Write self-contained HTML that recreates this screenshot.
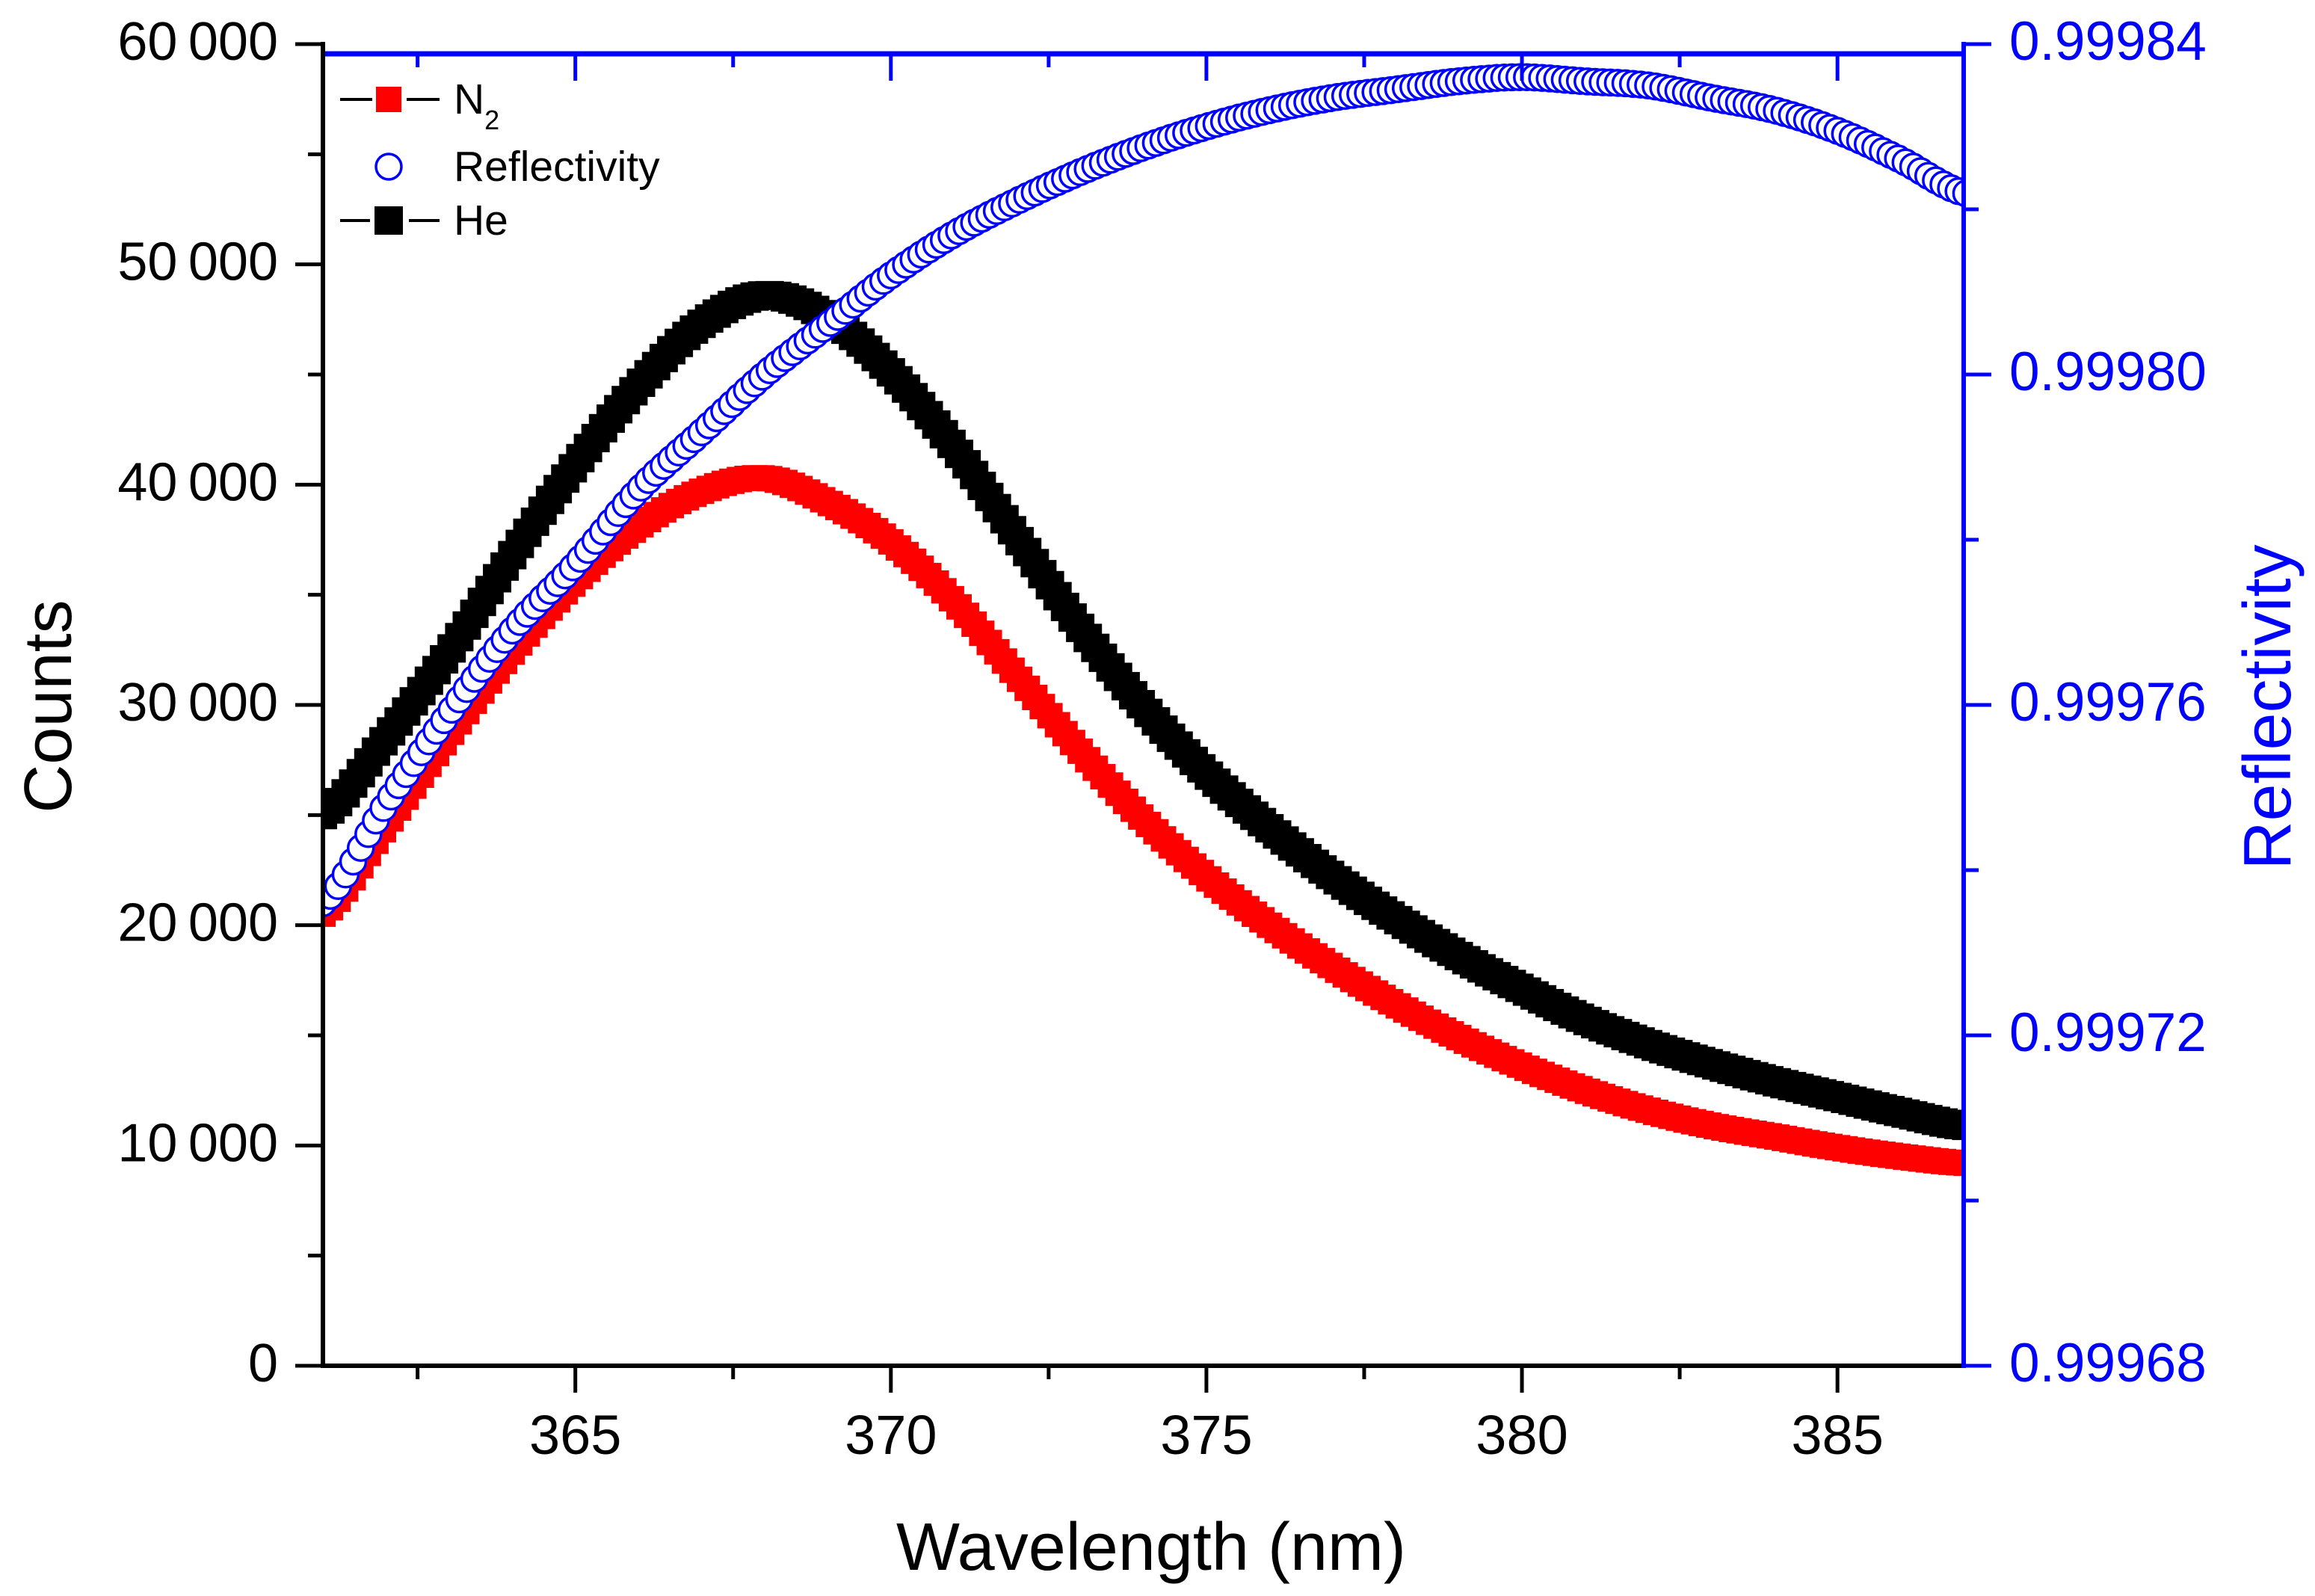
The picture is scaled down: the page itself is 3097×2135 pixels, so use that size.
<!DOCTYPE html>
<html><head><meta charset="utf-8"><style>
html,body{margin:0;padding:0;background:#fff;}
svg{display:block;font-family:"Liberation Sans",Arial,sans-serif;}
</style></head><body>
<svg id="chart" width="3097" height="2135" viewBox="0 0 3097 2135" xmlns="http://www.w3.org/2000/svg">
<defs><clipPath id="plotclip"><rect x="432" y="72" width="2195" height="1755"/></clipPath></defs>
<g id="series" clip-path="url(#plotclip)"></g>
<g id="axes"></g>
<g id="legend">
  <g>
    <line x1="455" y1="133" x2="498" y2="133" stroke="#000" stroke-width="4"/>
    <rect x="503" y="116" width="34" height="34" fill="#ff0000"/>
    <line x1="544" y1="133" x2="588" y2="133" stroke="#000" stroke-width="4"/>
    <text x="607" y="152" font-size="57" fill="#000">N<tspan font-size="36" dy="21">2</tspan></text>
  </g>
  <g>
    <circle cx="520" cy="223" r="17" fill="#fff" stroke="#0000ff" stroke-width="3.5"/>
    <text x="607" y="242" font-size="57" fill="#000">Reflectivity</text>
  </g>
  <g>
    <line x1="455" y1="295" x2="495" y2="295" stroke="#000" stroke-width="4"/>
    <rect x="501" y="276" width="38" height="38" fill="#000"/>
    <line x1="547" y1="295" x2="588" y2="295" stroke="#000" stroke-width="4"/>
    <text x="607" y="314" font-size="57" fill="#000">He</text>
  </g>
</g>
<text transform="translate(95,945) rotate(-90)" text-anchor="middle" font-size="90" fill="#000">Counts</text>
<text x="1540" y="2100" text-anchor="middle" font-size="90" fill="#000">Wavelength (nm)</text>
<text transform="translate(3064,946) rotate(-90)" text-anchor="middle" font-size="90" fill="#0000ff">Reflectivity</text>
</svg>
<script>
const wavelengths = [361,362,363,364,365,366,367,368,369,370,371,372,373,374,375,376,377,378,379,380,381,382,383,384,385,386,387];
const n2Counts = [20500,24500,28600,32400,35600,38100,39700,40300,39200,37400,34700,31300,27900,24800,22200,20000,18100,16400,14900,13600,12500,11600,10900,10400,9900,9500,9200];
const heCounts = [25000,28500,32400,36800,40900,44500,47300,48600,47600,45100,41700,37600,33500,29900,26900,24400,22200,20300,18600,17100,15700,14600,13700,12900,12200,11500,10900];
const reflectivity = [0.999736,0.999748,0.999759,0.999769,0.999777,0.999786,0.999793,0.999800,0.999806,0.999812,0.999817,0.999821,0.9998245,0.9998275,0.999830,0.999832,0.9998335,0.9998345,0.9998355,0.999836,0.9998355,0.999835,0.9998335,0.999832,0.9998295,0.999826,0.999822];
const xTicks = [365,370,375,380,385];
const xTickLabels = ["365","370","375","380","385"];
const yTicks = [0,10000,20000,30000,40000,50000,60000];
const yTickLabels = ["0","10\u2009000","20\u2009000","30\u2009000","40\u2009000","50\u2009000","60\u2009000"];
const y2Ticks = [0.99968,0.99972,0.99976,0.99980,0.99984];
const y2TickLabels = ["0.99968","0.99972","0.99976","0.99980","0.99984"];

const NS = "http://www.w3.org/2000/svg";
const X0=432, X1=2627, Y0=1827, Y1=59;
const xMin=361, xMax=387;
function xs(v){return X0+(v-xMin)/(xMax-xMin)*(X1-X0);}
function ys(v){return Y0-(v-0)/(60000-0)*(Y0-Y1);}
function ys2(v){return Y0-(v-0.99968)/(0.99984-0.99968)*(Y0-Y1);}
function mk(tag,attrs,parent){const e=document.createElementNS(NS,tag);for(const k in attrs)e.setAttribute(k,attrs[k]);parent.appendChild(e);return e;}
function interp(arr,t){
  const n=arr.length;let i=Math.floor(t);if(i>=n-1)i=n-2;if(i<0)i=0;const f=t-i;
  const p0=arr[Math.max(i-1,0)],p1=arr[i],p2=arr[i+1],p3=arr[Math.min(i+2,n-1)];
  return 0.5*((2*p1)+(-p0+p2)*f+(2*p0-5*p1+4*p2-p3)*f*f+(-p0+3*p1-3*p2+p3)*f*f*f);
}
const series=document.getElementById('series');
const step=0.12;
const nsteps=Math.round((wavelengths[wavelengths.length-1]-wavelengths[0])/step);
function drawSquares(vals,color,size,name){
  const g=mk('g',{},series);
  
  
  for(let k=0;k<=nsteps;k++){
    const t=k*step/(wavelengths[1]-wavelengths[0]);
    const w=wavelengths[0]+k*step;
    const v=interp(vals,t);
    const r=mk('rect',{x:(xs(w)-size/2).toFixed(1),y:(ys(v)-size/2).toFixed(1),width:size,height:size,fill:color},g);
    
    
  }
}
drawSquares(n2Counts,'#ff0000',34,'n2-series');
drawSquares(heCounts,'#000000',38,'he-series');
const rg=mk('g',{},series);


for(let k=0;k<=nsteps;k++){
  const t=k*step/(wavelengths[1]-wavelengths[0]);
  const w=wavelengths[0]+k*step;
  const v=interp(reflectivity,t);
  const c=mk('circle',{cx:xs(w).toFixed(1),cy:ys2(v).toFixed(1),r:17,fill:'#fff',stroke:'#0000ff','stroke-width':3.5},rg);
  
  
}

const axes=document.getElementById('axes');
let a=mk('line',{x1:X0-3,y1:Y0,x2:X1,y2:Y0,stroke:'#000','stroke-width':6},axes);


a=mk('line',{x1:X0,y1:72,x2:X1,y2:72,stroke:'#0000ff','stroke-width':7},axes);


a=mk('line',{x1:X0,y1:Y1-3,x2:X0,y2:Y0+3,stroke:'#000','stroke-width':6},axes);


a=mk('line',{x1:X1,y1:Y1-3,x2:X1,y2:Y0+3,stroke:'#0000ff','stroke-width':6},axes);



for(let w=362.5;w<=386;w+=2.5){
  const major=Math.abs(w%5)<1e-6;
  const x=xs(w);
  mk('line',{x1:x,y1:Y0,x2:x,y2:Y0+(major?36:18),stroke:'#000','stroke-width':5},axes);
  mk('line',{x1:x,y1:72,x2:x,y2:72+(major?36:18),stroke:'#0000ff','stroke-width':5},axes);
}
xTicks.forEach((v,i)=>{
  const t=mk('text',{x:xs(v),y:1945,'text-anchor':'middle','font-size':74,fill:'#000'},axes);
  t.textContent=xTickLabels[i];
  
  
});
for(let v=0;v<=60000;v+=5000){
  const major=v%10000===0;const y=ys(v);
  mk('line',{x1:X0,y1:y,x2:X0-(major?37:20),y2:y,stroke:'#000','stroke-width':5},axes);
}
yTicks.forEach((v,i)=>{
  const t=mk('text',{x:372,y:ys(v)+21,'text-anchor':'end','font-size':72,fill:'#000'},axes);
  t.textContent=yTickLabels[i];
  
  
});
for(let k=0;k<=8;k++){
  const v=0.99968+k*0.00002;const major=k%2===0;const y=ys2(v);
  mk('line',{x1:X1,y1:y,x2:X1+(major?37:20),y2:y,stroke:'#0000ff','stroke-width':5},axes);
}
y2Ticks.forEach((v,i)=>{
  const t=mk('text',{x:2688,y:ys2(v)+21,'text-anchor':'start','font-size':73,fill:'#0000ff'},axes);
  t.textContent=y2TickLabels[i];
  
  
});
</script>
</body></html>
